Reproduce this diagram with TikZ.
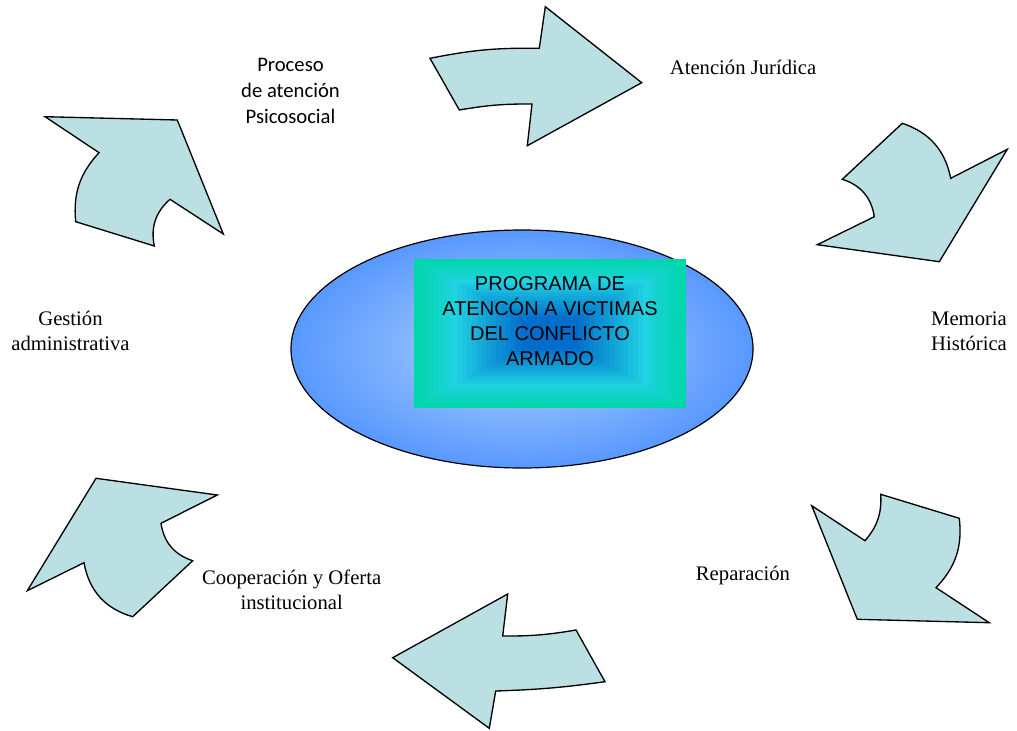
\documentclass[tikz,border=0pt]{standalone}
\usepackage{fontspec}
\setmainfont{Liberation Serif}
\newfontfamily\calibrifont{Carlito}
\newfontfamily\boxfont{Liberation Sans}
\usetikzlibrary{shapes}

\definecolor{arrow_fill}{RGB}{187,224,227}
\definecolor{oval_in}{RGB}{178,212,250}
\definecolor{oval_out}{RGB}{88,152,255}
\definecolor{box_teal}{RGB}{0,214,170}
\definecolor{box_cyan}{RGB}{32,210,226}
\definecolor{box_blue}{RGB}{0,108,204}

\tikzset{
	node_arrow/.style = {
		fill=arrow_fill,
		draw=black,
		line width=1pt,
		line join=miter
	},
	node_label/.style = {
		align=center,
		inner sep=0pt,
		text centered,
		font=\fontsize{15.5}{18.75}\selectfont
	},
	node_calibri/.style = {
		node_label,
		font=\calibrifont\fontsize{15.5}{19.5}\selectfont
	},
	node_title/.style = {
		node_label,
		font=\boxfont\fontsize{15}{18.75}\selectfont
	},
}

\begin{document}
\begin{tikzpicture}[x=0.75pt, y=-0.75pt]
\useasboundingbox (0,0) rectangle (1017,731);

% arrows round the oval
\draw [node_arrow] (430,58.3) to[bend left=6] (539.3,48.3) -- (545.3,6.7) -- (641.7,82.7) -- (527.3,145.7) -- (532,104) to[bend right=5] (459.3,110) -- cycle;
\draw [node_arrow] (902.3,123.3) to[bend left=30] (950.7,178.3) -- (1007.3,149.3) -- (939.3,261.7) -- (817.3,244.7) -- (874.3,216.7) to[bend right=32] (842.3,179.3) -- cycle;
\draw [node_arrow] (880.7,494.3) -- (959.3,518.3) to[bend left=25] (936,587.7) -- (989.3,622.7) -- (857.3,619.3) -- (811.7,505.7) -- (865,540.7) to[bend right=22] (880.7,494.3) -- cycle;
\draw [node_arrow] (507.7,594) -- (502.7,636) to[bend right=5] (576,630) -- (605,681.7) to[bend left=3] (495.7,691) -- (489.3,728.3) -- (392.7,657.7) -- cycle;
\draw [node_arrow] (96,478.3) -- (217.3,495) -- (161,523.3) to[bend right=32] (192.7,560.7) -- (132.7,616.7) to[bend left=32] (84,562.7) -- (27.3,590.7) -- cycle;
\draw [node_arrow] (45,116.7) -- (177.3,120) -- (223.3,234) -- (170,199.3) to[bend right=30] (154.3,246) -- (75.7,221.7) to[bend left=24] (99,152.7) -- cycle;

% oval and box
\shade [draw=black, line width=0.9pt, inner color=oval_in, outer color=oval_out] (522,349) ellipse [x radius=231, y radius=119];
\foreach \i in {0,...,9} {
	\pgfmathsetmacro\s{1-\i*0.03}
	\pgfmathsetmacro\p{\i*10}
	\fill [box_cyan!\p!box_teal] ({550-135.9*\s},{333.5-74.2*\s}) rectangle ({550+135.9*\s},{333.5+74.2*\s});
}
\foreach \i in {0,...,19} {
	\pgfmathsetmacro\s{0.72-\i*0.036}
	\pgfmathsetmacro\p{min(100,\i*7)}
	\fill [box_blue!\p!box_cyan] ({550-135.9*\s},{333.5-74.2*\s}) rectangle ({550+135.9*\s},{333.5+74.2*\s});
}
\node [node_title] (programa) at (550,321) {PROGRAMA DE\\ATENCÓN A VICTIMAS\\DEL CONFLICTO\\ARMADO};

% labels
\node [node_calibri] (psicosocial) at (290.5,91) {Proceso\\de atención\\Psicosocial};
\node [node_label] (juridica) at (743,67) {Atención Jurídica};
\node [node_label] (memoria) at (969,331) {Memoria\\Histórica};
\node [node_label] (reparacion) at (743,576) {Reparación};
\node [node_label] (cooperacion) at (291.7,590) {Cooperación y Oferta\\institucional};
\node [node_label] (gestion) at (70.5,331) {Gestión\\administrativa};
\end{tikzpicture}
\end{document}
